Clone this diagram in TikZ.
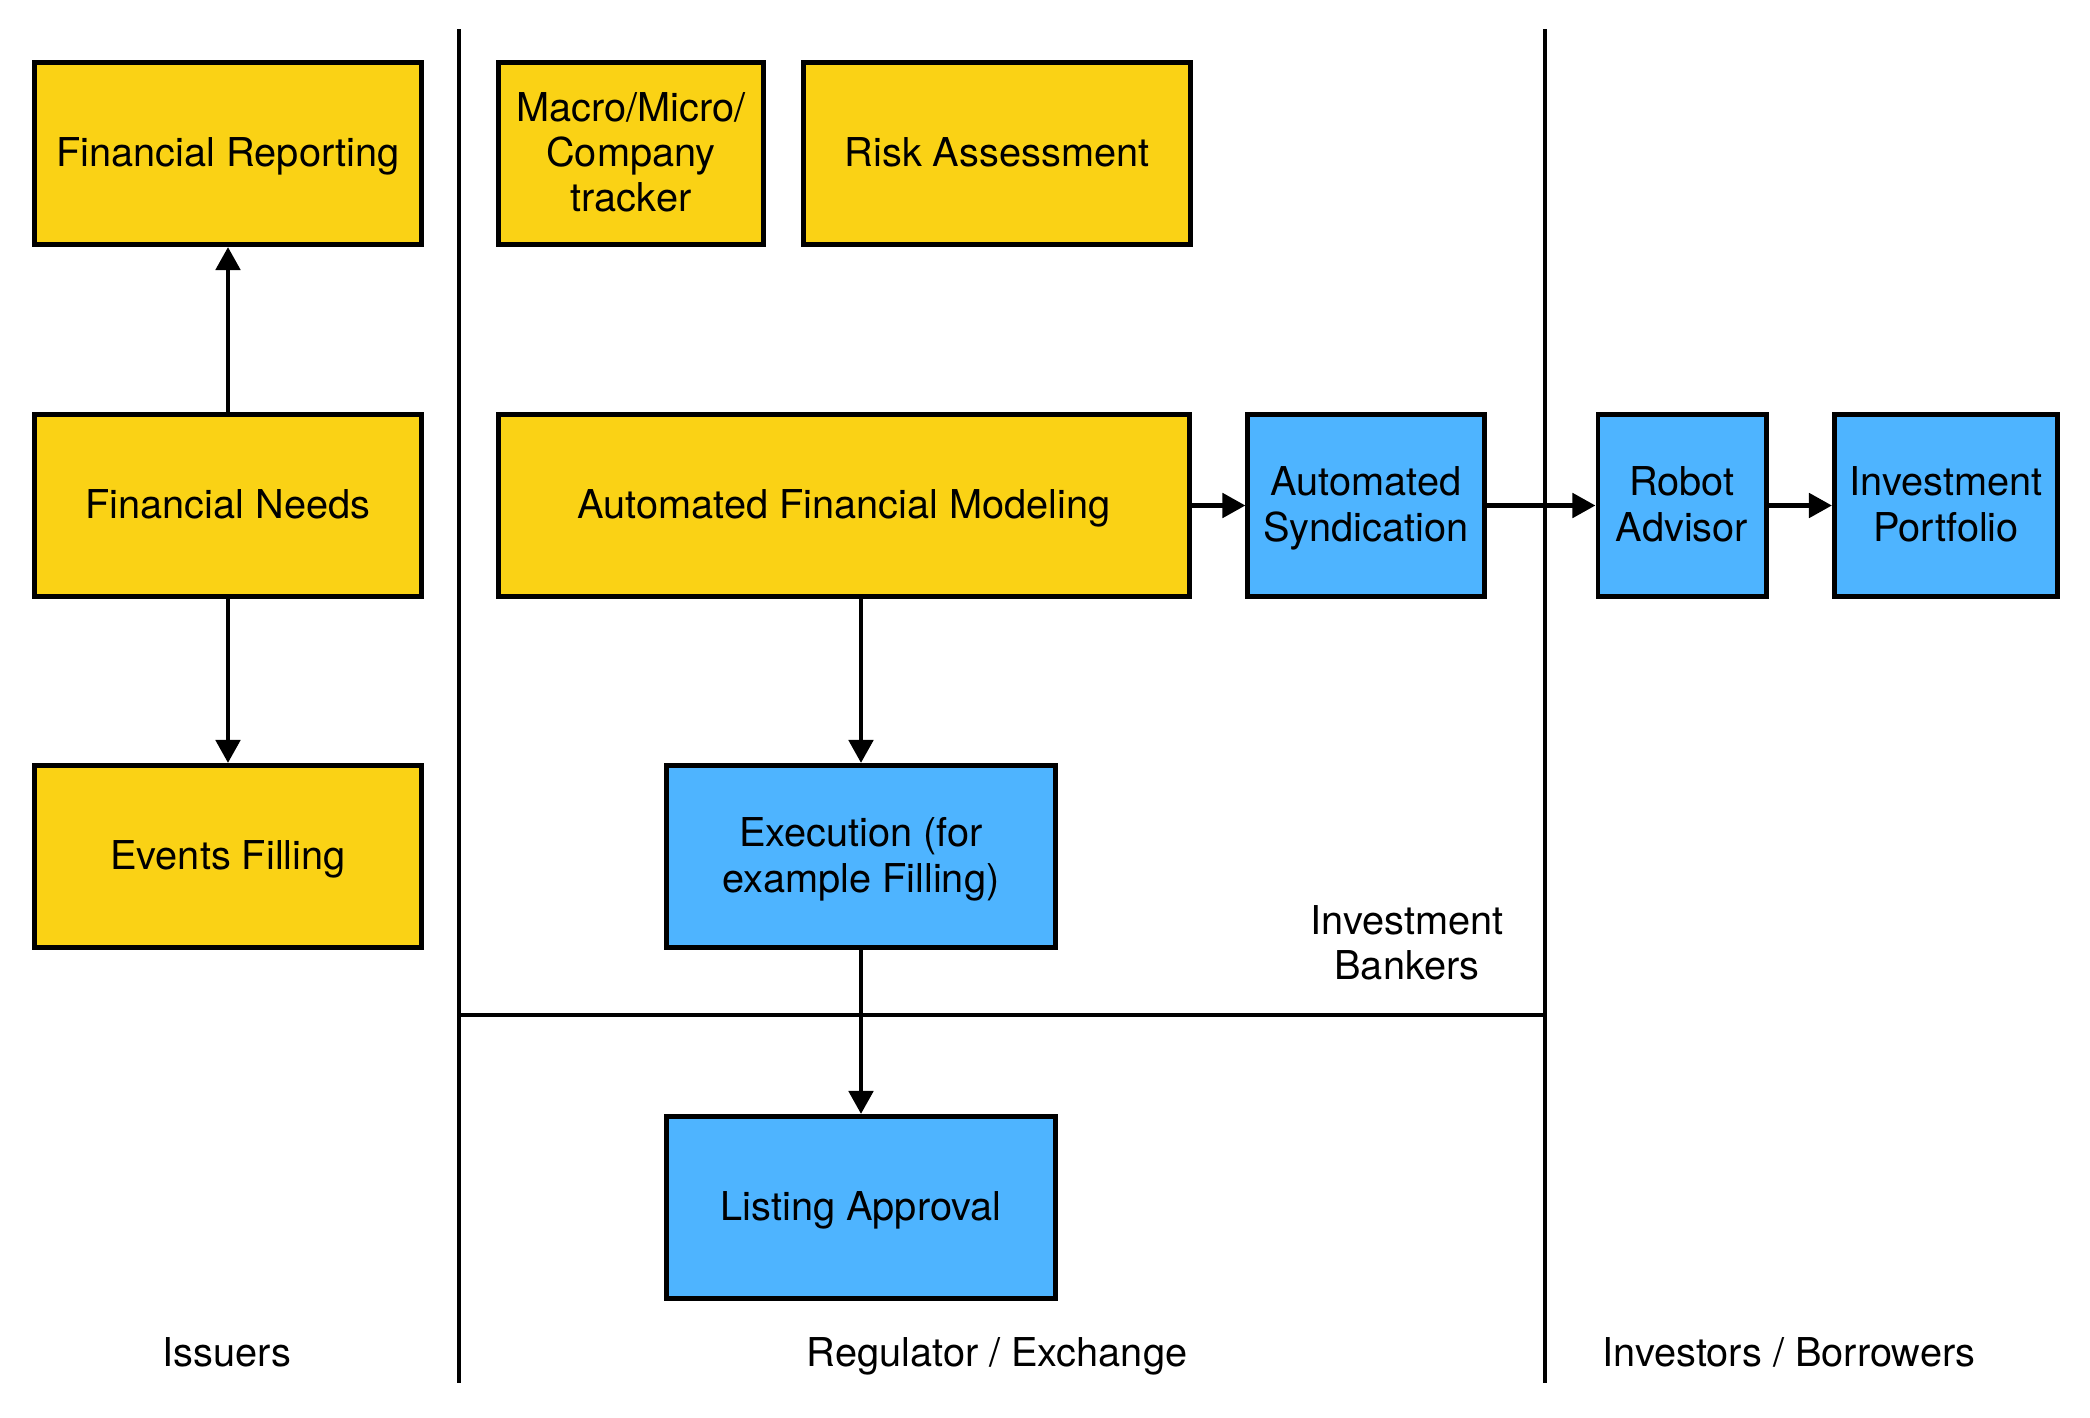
\documentclass[tikz,border=0pt]{standalone}
\usepackage{fontspec}
\setmainfont{TeX Gyre Heros}
\usepackage{tikz}
\usetikzlibrary{arrows.meta, positioning}
\definecolor{issuerfill}{HTML}{FAD215}
\definecolor{bankfill}{HTML}{4EB4FF}

\begin{document}
\begin{tikzpicture}[x=0.01cm, y=-0.01cm,
    box/.style={draw, line width=1.4pt, minimum height=1.82cm, align=center,
        font=\fontsize{11.3}{12.9}\selectfont, inner sep=1pt,
        text height=7.4pt, text depth=0pt},
    twolines/.style={text height=20.3pt},
    threelines/.style={text height=33.2pt},
    ybox/.style={box, fill=issuerfill},
    bbox/.style={box, fill=bankfill},
    flow/.style={-{Triangle[length=0.23cm, width=0.24cm]}, line width=1.4pt},
    lane/.style={line width=1.4pt},
    lanelabel/.style={font=\fontsize{11.3}{12.9}\selectfont, align=center,
        text height=7.4pt, text depth=0pt}
]
\useasboundingbox (0,0) rectangle (2090,1418);

% issuers
\node[ybox, minimum width=3.86cm] (report) at (228,153.5) {Financial Reporting};
\node[ybox, minimum width=3.86cm] (needs) at (228,505.5) {Financial Needs};
\node[ybox, minimum width=3.86cm] (events) at (228,856.5) {Events Filling};

% regulator / exchange and bankers
\node[ybox, threelines, minimum width=2.64cm] (tracker) at (631,153.5) {Macro/Micro/\\Company\\tracker};
\node[ybox, minimum width=3.86cm] (risk) at (997,153.5) {Risk Assessment};
\node[ybox, minimum width=6.91cm] (model) at (844,505.5) {Automated Financial Modeling};
\node[bbox, twolines, minimum width=2.36cm] (syndic) at (1366,505.5) {Automated\\Syndication};
\node[bbox, twolines, minimum width=3.88cm] (exec) at (861,856.5) {Execution (for\\example Filling)};
\node[bbox, minimum width=3.88cm] (listing) at (861,1207.5) {Listing Approval};

% investors
\node[bbox, twolines, minimum width=1.68cm] (robot) at (1682,505.5) {Robot\\Advisor};
\node[bbox, twolines, minimum width=2.23cm] (portf) at (1946,505.5) {Investment\\Portfolio};

% lanes
\draw[lane] (459,29) -- (459,1383);
\draw[lane] (1545,29) -- (1545,1383);
\draw[lane] (459,1015) -- (1545,1015);

\node[lanelabel, twolines] (bankers) at (1407,944) {Investment\\Bankers};
\node[lanelabel] (issuers) at (227,1353) {Issuers};
\node[lanelabel] (regul) at (997,1353) {Regulator / Exchange};
\node[lanelabel] (investors) at (1789,1353) {Investors / Borrowers};

\draw[flow] (needs) -- (report);
\draw[flow] (needs) -- (events);
\draw[flow] (model) -- (syndic);
\draw[flow] (model.south -| exec.north) -- (exec);
\draw[flow] (exec) -- (listing);
\draw[flow] (syndic) -- (robot);
\draw[flow] (robot) -- (portf);
\end{tikzpicture}
\end{document}
